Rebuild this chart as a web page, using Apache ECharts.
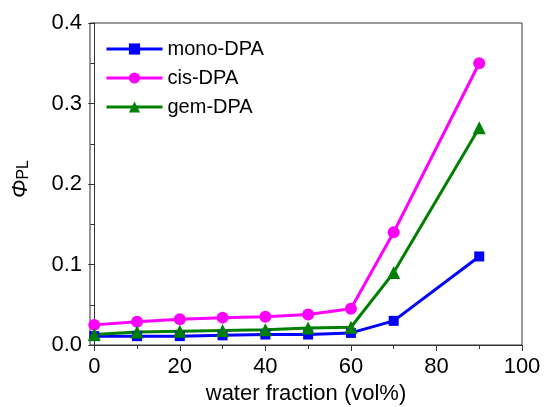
<!DOCTYPE html>
<html>
<head>
<meta charset="utf-8">
<script src="https://cdn.jsdelivr.net/npm/echarts@6/dist/echarts.min.js"></script>
<style>
  html, body { margin: 0; padding: 0; background: #fff; }
  #main { width: 544px; height: 407px; }
</style>
</head>
<body>
<div id="main"></div>
<script>
// water fraction (vol%)
var waterFraction = [0, 10, 20, 30, 40, 50, 60, 70, 90];
var monoDPA = [0.011, 0.011, 0.011, 0.012, 0.013, 0.013, 0.015, 0.030, 0.110];
var cisDPA  = [0.025, 0.029, 0.032, 0.034, 0.035, 0.038, 0.045, 0.140, 0.350];
var gemDPA  = [0.013, 0.016, 0.017, 0.018, 0.019, 0.021, 0.022, 0.090, 0.270];
var xMajorTicks = [0, 20, 40, 60, 80, 100];
var xMinorTicks = [10, 30, 50, 70, 90];

function pairs(ys) {
    return waterFraction.map(function (x, i) { return [x, ys[i]]; });
}

var font = 'Liberation Sans, Arial, sans-serif';
var chart = echarts.init(document.getElementById('main'));
var option = {
    backgroundColor: '#fff',
    animation: false,
    grid: {
        left: 90, right: 22, top: 23, bottom: 62,
        containLabel: false, outerBoundsMode: 'none',
        show: true, borderColor: '#333', borderWidth: 1, backgroundColor: 'transparent'
    },
    legend: {
        left: 100, top: 34, orient: 'vertical',
        itemWidth: 56, itemHeight: 14, itemGap: 9,
        lineStyle: { width: 3 },
        textStyle: { fontFamily: font, fontSize: 20, color: '#000' },
        data: ['mono-DPA', 'cis-DPA', 'gem-DPA']
    },
    xAxis: [
        {
            type: 'value', min: -1, max: 100,
            name: 'water fraction (vol%)', nameLocation: 'middle', nameGap: 38,
            nameTextStyle: { fontFamily: font, fontSize: 22, color: '#000' },
            axisLine: { show: true, lineStyle: { color: '#333', width: 1 } },
            axisTick: { show: true, inside: false, length: 6, customValues: xMajorTicks, lineStyle: { color: '#333' } },
            axisLabel: { show: true, margin: 11, customValues: xMajorTicks, fontFamily: font, fontSize: 22, color: '#000' },
            splitLine: { show: false }
        },
        {
            // minor ticks
            type: 'value', min: -1, max: 100, position: 'bottom',
            axisLine: { show: false },
            axisTick: { show: true, length: 4, customValues: xMinorTicks, lineStyle: { color: '#333' } },
            axisLabel: { show: false },
            splitLine: { show: false }
        }
    ],
    yAxis: {
        type: 'value', min: 0, max: 0.4, interval: 0.1,
        name: '{phi|Φ}{sub|PL}', nameLocation: 'middle', nameGap: 58, nameRotate: 90,
        nameTextStyle: {
            padding: [0, 0, 0, 10],
            rich: {
                phi: { fontFamily: font, fontSize: 22, fontStyle: 'italic', color: '#000', verticalAlign: 'bottom' },
                sub: { fontFamily: font, fontSize: 16, color: '#000', padding: [10, 0, 0, 0] }
            }
        },
        axisLine: { show: true, lineStyle: { color: '#333', width: 1 } },
        axisTick: { show: true, inside: false, length: 6, lineStyle: { color: '#333' } },
        minorTick: { show: true, splitNumber: 2, length: 4, lineStyle: { color: '#333' } },
        axisLabel: {
            margin: 8, fontFamily: font, fontSize: 22, color: '#000',
            formatter: function (v) { return v.toFixed(1); }
        },
        splitLine: { show: false }
    },
    series: [
        {
            name: 'mono-DPA', type: 'line', data: pairs(monoDPA),
            symbol: 'rect', symbolSize: 10,
            lineStyle: { color: '#0000ff', width: 3 },
            itemStyle: { color: '#0000ff' }
        },
        {
            name: 'cis-DPA', type: 'line', data: pairs(cisDPA),
            symbol: 'circle', symbolSize: 12,
            lineStyle: { color: '#ff00ff', width: 3 },
            itemStyle: { color: '#ff00ff' }
        },
        {
            name: 'gem-DPA', type: 'line', data: pairs(gemDPA),
            symbol: 'triangle', symbolSize: 13,
            lineStyle: { color: '#008000', width: 3 },
            itemStyle: { color: '#008000' }
        }
    ]
};
chart.setOption(option);
</script>
</body>
</html>
